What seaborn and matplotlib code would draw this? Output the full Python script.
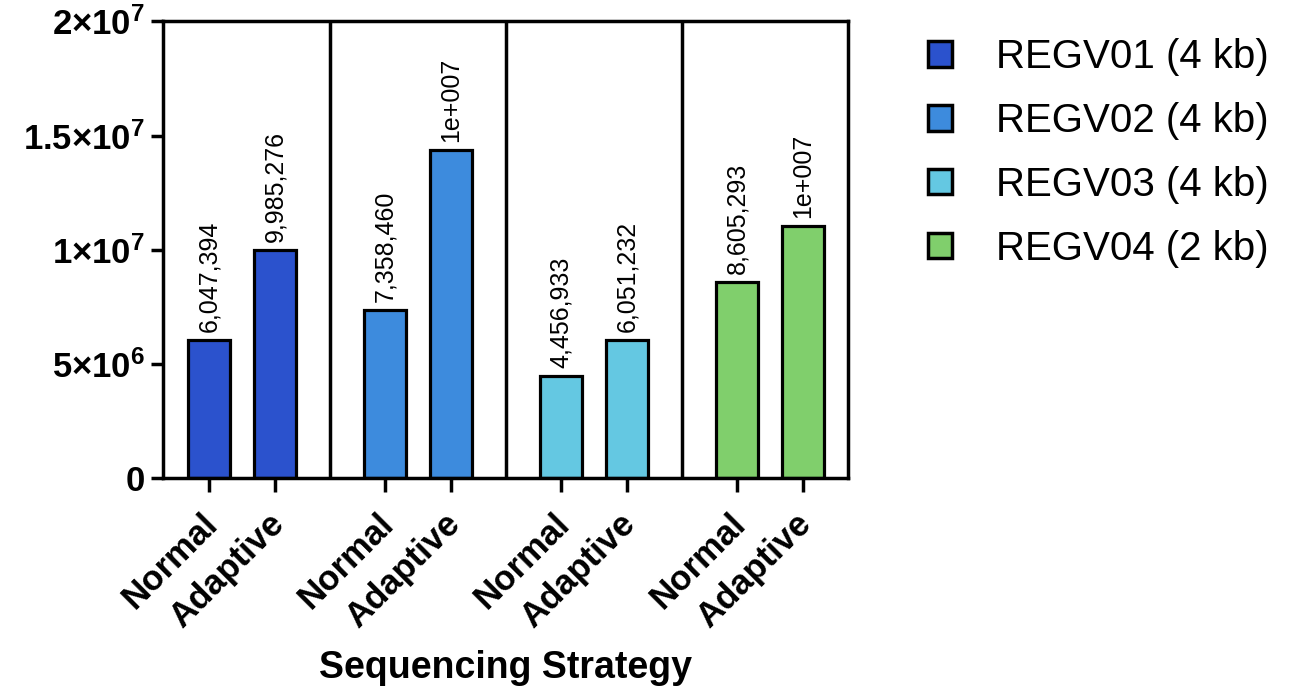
import numpy as np
import pandas as pd
import matplotlib
matplotlib.use("Agg")
import matplotlib.pyplot as plt
from matplotlib.patches import Patch
from matplotlib.transforms import ScaledTranslation
import seaborn as sns

# data
regions = ["REGV01 (4 kb)", "REGV02 (4 kb)", "REGV03 (4 kb)", "REGV04 (2 kb)"]
strategies = ["Normal", "Adaptive"]
normal_reads = [6047394, 7358460, 4456933, 8605293]
adaptive_reads = [9985276, 14350000, 6051232, 11060000]
bar_labels = ["6,047,394", "9,985,276", "7,358,460", "1e+007",
              "4,456,933", "6,051,232", "8,605,293", "1e+007"]
colors = ["#2B52CD", "#3D8BDD", "#64C8E2", "#80CF6C"]
y_ticks = [0, 5e6, 1e7, 1.5e7, 2e7]
y_tick_labels = ["0", "5×10$^6$", "1×10$^7$", "1.5×10$^7$", "2×10$^7$"]

sns.set_theme(style="ticks")
plt.rcParams["font.family"] = ["Liberation Sans", "DejaVu Sans"]
plt.rcParams["mathtext.fontset"] = "custom"
plt.rcParams["mathtext.bf"] = "Liberation Sans:bold"
plt.rcParams["mathtext.rm"] = "Liberation Sans:bold"
plt.rcParams["mathtext.default"] = "bf"
for k in ["text.color", "axes.labelcolor", "xtick.color", "ytick.color", "axes.edgecolor"]:
    plt.rcParams[k] = "black"

group_step = 2.67
rows = []
for g, reg in enumerate(regions):
    for j, (strat, val) in enumerate(zip(strategies, [normal_reads[g], adaptive_reads[g]])):
        rows.append({"pos": g * group_step + j, "region": reg, "strategy": strat, "reads": val})
df = pd.DataFrame(rows)

fig = plt.figure(figsize=(12.94, 6.9), dpi=100)
ax = fig.add_axes([0.126, 0.307, 0.529, 0.662])

sns.barplot(data=df, x="pos", y="reads", hue="region", palette=colors,
            native_scale=True, dodge=False, width=0.64, legend=False,
            edgecolor="black", linewidth=2.3, saturation=1, ax=ax)

# value labels above bars
for (_, r), lab in zip(df.iterrows(), bar_labels):
    ax.text(r["pos"], r["reads"] + 3.5e5, lab, rotation=90, ha="center", va="bottom",
            fontsize=18, color="black")

# separators between groups
for g in range(1, len(regions)):
    ax.axvline(g * group_step - (group_step - 1) / 2, color="black", lw=2.5)

ax.set_xlim(-0.70, 3 * group_step + 1 + 0.68)
ax.set_ylim(0, 2e7)
ax.tick_params(axis="y", length=9, width=2.5, pad=4)
ax.tick_params(axis="x", length=10, width=2.5, pad=6)
ax.set_yticks(y_ticks)
ax.set_yticklabels(y_tick_labels, fontsize=25, fontweight="bold")
ax.set_xticks(df["pos"])
ax.set_xticklabels(df["strategy"], rotation=45, ha="right", rotation_mode="anchor",
                   fontsize=25, fontweight="bold")
# nudge the slanted labels down-left like the original
shift = ScaledTranslation(-0.08, -0.07, fig.dpi_scale_trans)
for lbl in ax.get_xticklabels():
    lbl.set_transform(lbl.get_transform() + shift)
ax.set_xlabel("Sequencing Strategy", fontsize=27, fontweight="bold", labelpad=11)
ax.set_ylabel("")
for sp in ax.spines.values():
    sp.set_linewidth(2.5)
    sp.set_color("black")
    sp.set_visible(True)

handles = [Patch(facecolor=c, edgecolor="black", linewidth=2.5) for c in colors]
fig.legend(handles, regions, loc="upper left", bbox_to_anchor=(0.689, 0.997),
           frameon=False, fontsize=29, handlelength=0.6, handleheight=0.6,
           handletextpad=1.1, labelspacing=0.64)

fig.savefig("out.png", dpi=100, facecolor="white")
